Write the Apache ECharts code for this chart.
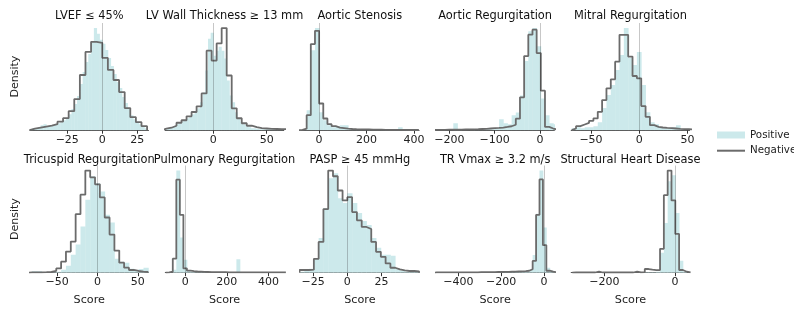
<!DOCTYPE html>
<html>
<head>
<meta charset="utf-8">
<title>Score distributions</title>
<script src="https://cdn.jsdelivr.net/npm/echarts@6/dist/echarts.min.js"></script>
<style>
  html, body { margin: 0; padding: 0; background: #fff; }
  #chart { width: 794px; height: 310px; }
</style>
</head>
<body>
<div id="chart"></div>
<script>
// panel titles, row by row
const titles = [
  'LVEF \u2264 45%', 'LV Wall Thickness \u2265 13 mm', 'Aortic Stenosis', 'Aortic Regurgitation', 'Mitral Regurgitation',
  'Tricuspid Regurgitation', 'Pulmonary Regurgitation', 'PASP \u2265 45 mmHg', 'TR Vmax \u2265 3.2 m/s', 'Structural Heart Disease'
]
// x range of each panel (score)
const xMin = [-51.6, -45, -77.5, -229.8, -70.5, -83.5, -96, -34.2, -505, -294]
const xMax = [33, 66, 421.5, 31.8, 52.2, 63.2, 474, 52.5, 48.6, 41.6]
// tick labels
const tickValues = [
  [-25, 0, 25], [0, 50], [0, 200, 400], [-200, -100, 0], [-50, 0, 50],
  [-50, 0, 50], [0, 200, 400], [-25, 0, 25], [-400, -200, 0], [-200, 0]
]
// histogram bins (first edge + bin width)
const posStart = [-52, -45, -87, -237.4, -70, -87, -94, -35, -517, -290.8]
const posWidth = [2, 2.5, 17.5, 9.2, 4.5, 6, 17, 3.5, 16, 10.8]
const negStart = [-52, -48.6, -87, -237.4, -70, -87, -94, -35, -517, -290.8]
const negWidth = [4, 4.7, 17.5, 9.2, 4.5, 6, 17, 3.5, 16, 10.8]

// density per bin (relative units)
const lvefPos = [1, 2, 2, 3, 5, 6, 4, 4, 5, 6, 7, 8, 10, 12, 16, 21, 26, 34, 46, 58, 68, 76, 88, 101.7, 96, 90, 86, 80, 72, 64, 56, 48, 42, 33, 27, 21, 15, 11, 8, 6, 4, 2]
const lvefNeg = [1.5, 2.5, 3.5, 4.5, 6, 8.5, 12, 19, 31, 55, 78, 88, 87, 72, 60, 50, 38, 22, 13, 8, 4]
const lvwtPos = [1, 2, 3, 4, 6, 7, 9, 10, 12, 14, 16, 19, 22, 28, 38, 60, 92, 98, 75, 80, 84, 80, 72, 50, 35, 28, 18, 12, 8, 6, 4, 3, 2, 2, 1.5, 1, 1, 1, 1.5, 1, 1, 0.5, 0.5, 0.5]
const lvwtNeg = [1.5, 2.5, 4.5, 7.5, 10, 14, 18.3, 24, 37, 80, 70, 87.3, 102.7, 55, 22, 12, 7, 4.5, 3, 2, 1.7, 1.3, 1.2, 1, 1]
const asPos = [0, 0.5, 20, 80, 102, 18, 10, 5, 3, 4, 5, 5, 2, 1, 1, 0.5, 0.5, 0.3, 0.3, 0.3, 0.3, 0.3, 0.3, 0.5, 3, 0.3, 0.3, 0.2, 0.2]
const asNeg = [0.3, 1.5, 15, 86, 99.3, 26.7, 11.7, 6, 4, 2.5, 2, 1.5, 1.2, 1, 0.9, 0.8, 0.7, 0.6, 0.5, 0.5, 0.4, 0.4, 0.3, 0.3, 0.3, 0.3, 0.2, 0.2, 0.2]
const arPos = [0, 0, 0, 0, 0, 7, 0.5, 0, 0, 0.5, 0.5, 0.5, 1, 1, 1, 1.5, 11, 7, 6, 15, 18, 35, 70, 100, 103.3, 85, 32, 15, 7, 6]
const arNeg = [0.3, 0.4, 0.4, 0.5, 0.5, 0.6, 0.6, 0.7, 0.8, 0.9, 1, 1.2, 1.4, 1.7, 2, 2.3, 2.7, 3.3, 4, 5.5, 11.7, 33.3, 75, 96.7, 101.7, 78, 40, 3.3, 1.7, 0.5]
const mrPos = [2, 3, 2, 3, 3, 4, 8, 22, 35, 45, 60, 75, 101.7, 72, 65, 78, 45, 18, 8, 6, 3, 2, 2, 3, 5, 1, 0.5, 0.3]
const mrNeg = [1.7, 4, 5.7, 7.3, 9.3, 11.7, 18.3, 30, 41.7, 50.7, 68.3, 95, 95, 73.3, 54, 51.7, 24, 13.3, 5, 3.3, 2.7, 2.3, 2, 1.7, 1.3, 1, 1, 0.7]
const trPos = [0, 1.5, 1.5, 0.5, 0.5, 0.5, 1, 3, 7, 18, 28, 46, 72.7, 96, 89, 81, 57.7, 50, 14, 11, 10, 4, 2.7, 3.7, 5]
const trNeg = [0.3, 0.3, 0.4, 0.5, 0.7, 1.7, 4.3, 11, 21, 31, 58.3, 77.7, 101.7, 95, 88, 75, 55, 38, 22, 10, 5, 2.7, 1.7, 1, 0.7]
const prPos = [0, 0, 3, 101.7, 35, 13, 2, 1, 0.5, 0.5, 0.5, 0.5, 0.3, 0.3, 0.3, 0.3, 0.3, 0.3, 0.3, 0.3, 13.3, 0.3, 0.3, 0, 0, 0, 0, 0, 0, 0, 0, 0, 0, 0]
const prNeg = [0.3, 1, 14, 92.7, 57.7, 4.3, 2, 1.5, 1.2, 1, 0.8, 0.7, 0.6, 0.6, 0.5, 0.5, 0.5, 0.4, 0.4, 0.4, 0.4, 0.3, 0.3, 0.3, 0.3, 0.3, 0.3, 0.3, 0.3, 0.3, 0.3, 0.3, 0.3, 0.3]
const paspPos = [1, 2, 4, 14, 35, 65, 95, 100, 75, 70, 80, 70, 60, 52, 48, 35, 25, 18, 18, 17, 4, 2, 1, 1, 1.5]
const paspNeg = [2.7, 2.7, 3, 14, 31, 64, 102.7, 97, 82.7, 72.7, 76, 61, 52.7, 46, 44, 31, 21, 16, 9.3, 5, 3.3, 2.3, 1.7, 1.7, 1.3]
const vmaxPos = [0.2, 0.2, 0.2, 0.2, 0.2, 0.2, 0.2, 0.2, 0.2, 0.2, 0.2, 0.2, 0.2, 0.2, 0.2, 0.2, 0.3, 0.3, 0.3, 0.3, 0.4, 0.4, 0.5, 0.5, 0.6, 0.8, 1, 1.5, 3, 18, 60, 104, 46, 5, 2, 0.5]
const vmaxNeg = [0.3, 0.3, 0.3, 0.3, 0.3, 0.3, 0.3, 0.3, 0.3, 0.4, 0.4, 0.4, 0.4, 0.5, 0.5, 0.5, 0.6, 0.6, 0.7, 0.7, 0.8, 0.9, 1, 1, 1.2, 1.4, 1.6, 2, 3.5, 12, 59, 95, 28, 2, 1, 0.5]
const shdPos = [0, 0, 0, 0, 0, 0, 0, 0, 0, 0, 0, 0, 0, 0, 0, 0, 0, 0, 0, 0.5, 0.5, 0.5, 1, 20, 50, 92, 98, 60, 12, 1, 0]
const shdNeg = [0.2, 0.2, 0.2, 0.2, 0.2, 0.2, 1.2, 0.2, 0.2, 0.2, 0.2, 0.2, 0.2, 0.2, 0.2, 0.2, 1.2, 0.3, 0.5, 3.7, 3, 2.5, 2.7, 24, 78, 102.7, 72.7, 39, 2.7, 1, 0.3]

const posHeights = [lvefPos, lvwtPos, asPos, arPos, mrPos, trPos, prPos, paspPos, vmaxPos, shdPos]
const negHeights = [lvefNeg, lvwtNeg, asNeg, arNeg, mrNeg, trNeg, prNeg, paspNeg, vmaxNeg, shdNeg]

const posColor = '#cce9eb'
const negColor = '#6b6b6b'
const font = 'DejaVu Sans'
const panelLeft = [30, 165.3, 300.6, 435.9, 571.2]
const panelWidth = 118.5
const rowTop = [23, 165.5]
const rowHeight = 107.2

const fmt = v => (v < 0 ? '\u2212' + (-v) : String(v))

const chart = echarts.init(document.getElementById('chart'))

const grids = []
const xAxes = []
const yAxes = []
const series = []
const titleList = []

titles.forEach((t, i) => {
  const row = i < 5 ? 0 : 1
  const left = panelLeft[i % 5]
  grids.push({ left: left, top: rowTop[row], width: panelWidth, height: rowHeight })
  titleList.push({
    text: t,
    left: left + panelWidth / 2,
    top: row === 0 ? 16.3 : 160.5,
    textAlign: 'center',
    textVerticalAlign: 'middle',
    padding: 0,
    textStyle: { fontSize: 11.4, fontWeight: 'normal', color: '#111', fontFamily: font }
  })
  xAxes.push({
    gridIndex: i,
    type: 'value',
    min: xMin[i],
    max: xMax[i],
    splitLine: { show: false },
    axisLine: { show: true, onZero: false, lineStyle: { color: '#555', width: 1 } },
    axisTick: { show: true, customValues: tickValues[i], length: 3.5, lineStyle: { color: '#333', width: 1 } },
    axisLabel: { customValues: tickValues[i], formatter: fmt, margin: 4, fontSize: 11, color: '#222', fontFamily: font },
    name: row === 1 ? 'Score' : '',
    nameLocation: 'middle',
    nameGap: 22,
    nameTextStyle: { fontSize: 11.2, color: '#222', fontFamily: font }
  })
  yAxes.push({
    gridIndex: i,
    type: 'value',
    min: 0,
    max: v => v.max * 1.05,
    show: false
  })

  // positive: filled bars
  const bars = posHeights[i].map((h, k) => [posStart[i] + k * posWidth[i], posStart[i] + (k + 1) * posWidth[i], h])
  series.push({
    name: 'Positive',
    type: 'custom',
    xAxisIndex: i,
    yAxisIndex: i,
    clip: true,
    silent: true,
    itemStyle: { color: posColor },
    encode: { x: [0, 1], y: 2 },
    data: bars,
    z: 1,
    renderItem: (params, api) => {
      const p0 = api.coord([api.value(0), api.value(2)])
      const p1 = api.coord([api.value(1), 0])
      return {
        type: 'rect',
        shape: { x: p0[0], y: p0[1], width: p1[0] - p0[0] + 0.4, height: p1[1] - p0[1] },
        style: { fill: posColor }
      }
    }
  })

  // negative: step outline
  const n = negHeights[i]
  const pts = [[negStart[i], 0]]
  n.forEach((h, k) => pts.push([negStart[i] + k * negWidth[i], h]))
  pts.push([negStart[i] + n.length * negWidth[i], 0])
  series.push({
    name: 'Negative',
    type: 'line',
    xAxisIndex: i,
    yAxisIndex: i,
    step: 'end',
    symbol: 'none',
    showSymbol: false,
    clip: true,
    silent: true,
    lineStyle: { color: negColor, width: 1.8 },
    itemStyle: { color: negColor },
    data: pts,
    z: 3,
    markLine: {
      silent: true,
      symbol: ['none', 'none'],
      label: { show: false },
      lineStyle: { color: 'rgba(0,0,0,0.22)', width: 1, type: 'solid' },
      data: [{ xAxis: 0 }]
    }
  })
})

const option = {
  animation: false,
  backgroundColor: '#fff',
  title: titleList,
  grid: grids,
  xAxis: xAxes,
  yAxis: yAxes,
  series: series,
  legend: {
    orient: 'vertical',
    left: 716,
    top: 129,
    padding: 0,
    itemGap: 3.7,
    itemWidth: 28,
    itemHeight: 7,
    textStyle: { fontSize: 10.3, lineHeight: 12, color: '#222', fontFamily: font },
    data: [
      { name: 'Positive', icon: 'rect' },
      { name: 'Negative', itemStyle: { opacity: 0 } }
    ]
  },
  graphic: rowTop.map(t => ({
    type: 'text',
    x: 15,
    y: t + rowHeight / 2,
    rotation: Math.PI / 2,
    style: {
      text: 'Density',
      fill: '#222',
      fontSize: 11,
      fontFamily: font,
      align: 'center',
      verticalAlign: 'middle',
      textAlign: 'center',
      textVerticalAlign: 'middle'
    }
  }))
}

chart.setOption(option)
</script>
</body>
</html>
